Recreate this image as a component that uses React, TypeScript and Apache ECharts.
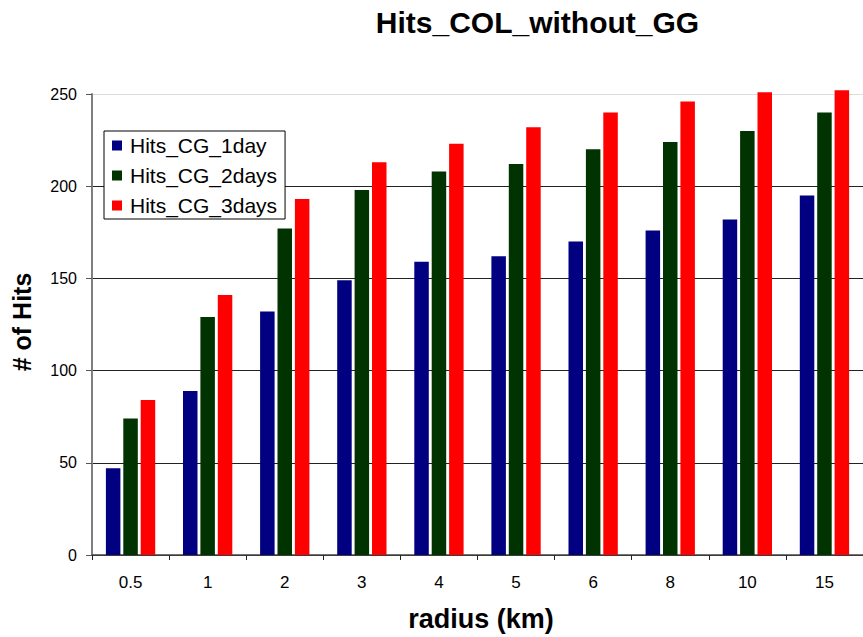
import React, { useEffect, useRef } from "react";
import * as echarts from "echarts";

const categories = ["0.5", "1", "2", "3", "4", "5", "6", "8", "10", "15"];
const hitsOneDay = [47, 89, 132, 149, 159, 162, 170, 176, 182, 195];
const hitsTwoDays = [74, 129, 177, 198, 208, 212, 220, 224, 230, 240];
const hitsThreeDays = [84, 141, 193, 213, 223, 232, 240, 246, 251, 252];
const seriesNames = ["Hits_CG_1day", "Hits_CG_2days", "Hits_CG_3days"];
const titleText = "Hits_COL_without_GG";
const xName = "radius (km)";
const yName = "# of Hits";

const FONT = 'Arial, "Liberation Sans", sans-serif';

export default function App() {
  const ref = useRef<HTMLDivElement>(null);
  useEffect(() => {
    if (!ref.current) return;
    const chart = echarts.init(ref.current, null, { renderer: "svg" });
    const colors = ["#000080", "#003300", "#ff0000"];
    const data = [hitsOneDay, hitsTwoDays, hitsThreeDays];
    chart.setOption({
      animation: false,
      backgroundColor: "#ffffff",
      textStyle: { fontFamily: FONT },
      grid: { left: 92, top: 94, bottom: 82, right: -9, containLabel: false },
      graphic: [
        {
          type: "text",
          x: 537.5,
          y: 22,
          style: {
            text: titleText,
            font: `bold 30px ${FONT}`,
            fill: "#000",
            textAlign: "center",
            textVerticalAlign: "middle",
          },
        },
        {
          type: "text",
          x: 481,
          y: 619,
          style: {
            text: xName,
            font: `bold 27px ${FONT}`,
            fill: "#000",
            textAlign: "center",
            textVerticalAlign: "middle",
          },
        },
        {
          type: "text",
          x: 21.5,
          y: 322,
          rotation: Math.PI / 2,
          style: {
            text: yName,
            font: `bold 25px ${FONT}`,
            fill: "#000",
            textAlign: "center",
            textVerticalAlign: "middle",
          },
        },
      ],
      legend: {
        orient: "vertical",
        left: 104,
        top: 131,
        data: seriesNames,
        icon: "rect",
        itemWidth: 10,
        itemHeight: 10,
        itemGap: 9,
        padding: [4, 8, 3, 8],
        backgroundColor: "#ffffff",
        borderColor: "#000000",
        borderWidth: 1,
        borderRadius: 0,
        textStyle: {
          fontSize: 21,
          fontFamily: FONT,
          color: "#000",
          lineHeight: 21,
          padding: [0, 0, 0, 3],
        },
      },
      xAxis: {
        type: "category",
        data: categories,
        boundaryGap: true,
        axisLine: { lineStyle: { color: "#444", width: 1.5 } },
        axisTick: { show: true, length: 5, lineStyle: { color: "#222" } },
        axisLabel: { fontSize: 17, color: "#000", margin: 19, fontFamily: FONT },
        splitLine: { show: false },
      },
      yAxis: {
        type: "value",
        min: 0,
        max: 250,
        interval: 50,
        axisLine: { show: true, lineStyle: { color: "#808080", width: 2 } },
        axisTick: { show: true, length: 6, lineStyle: { color: "#555" } },
        axisLabel: { fontSize: 16, color: "#000", margin: 15, fontFamily: FONT },
        splitLine: {
          show: true,
          lineStyle: {
            color: ["#222", "#222", "#222", "#222", "#222", "#dddddd"],
            width: 1,
          },
        },
      },
      series: seriesNames.map((name, i) => ({
        name,
        type: "bar",
        data: data[i],
        barWidth: 14.5,
        barGap: "20%",
        clip: false,
        itemStyle: { color: colors[i] },
      })),
    });
    return () => chart.dispose();
  }, []);
  return (
    <div
      ref={ref}
      style={{ position: "absolute", left: 0, top: 0, width: 863, height: 637 }}
    />
  );
}
